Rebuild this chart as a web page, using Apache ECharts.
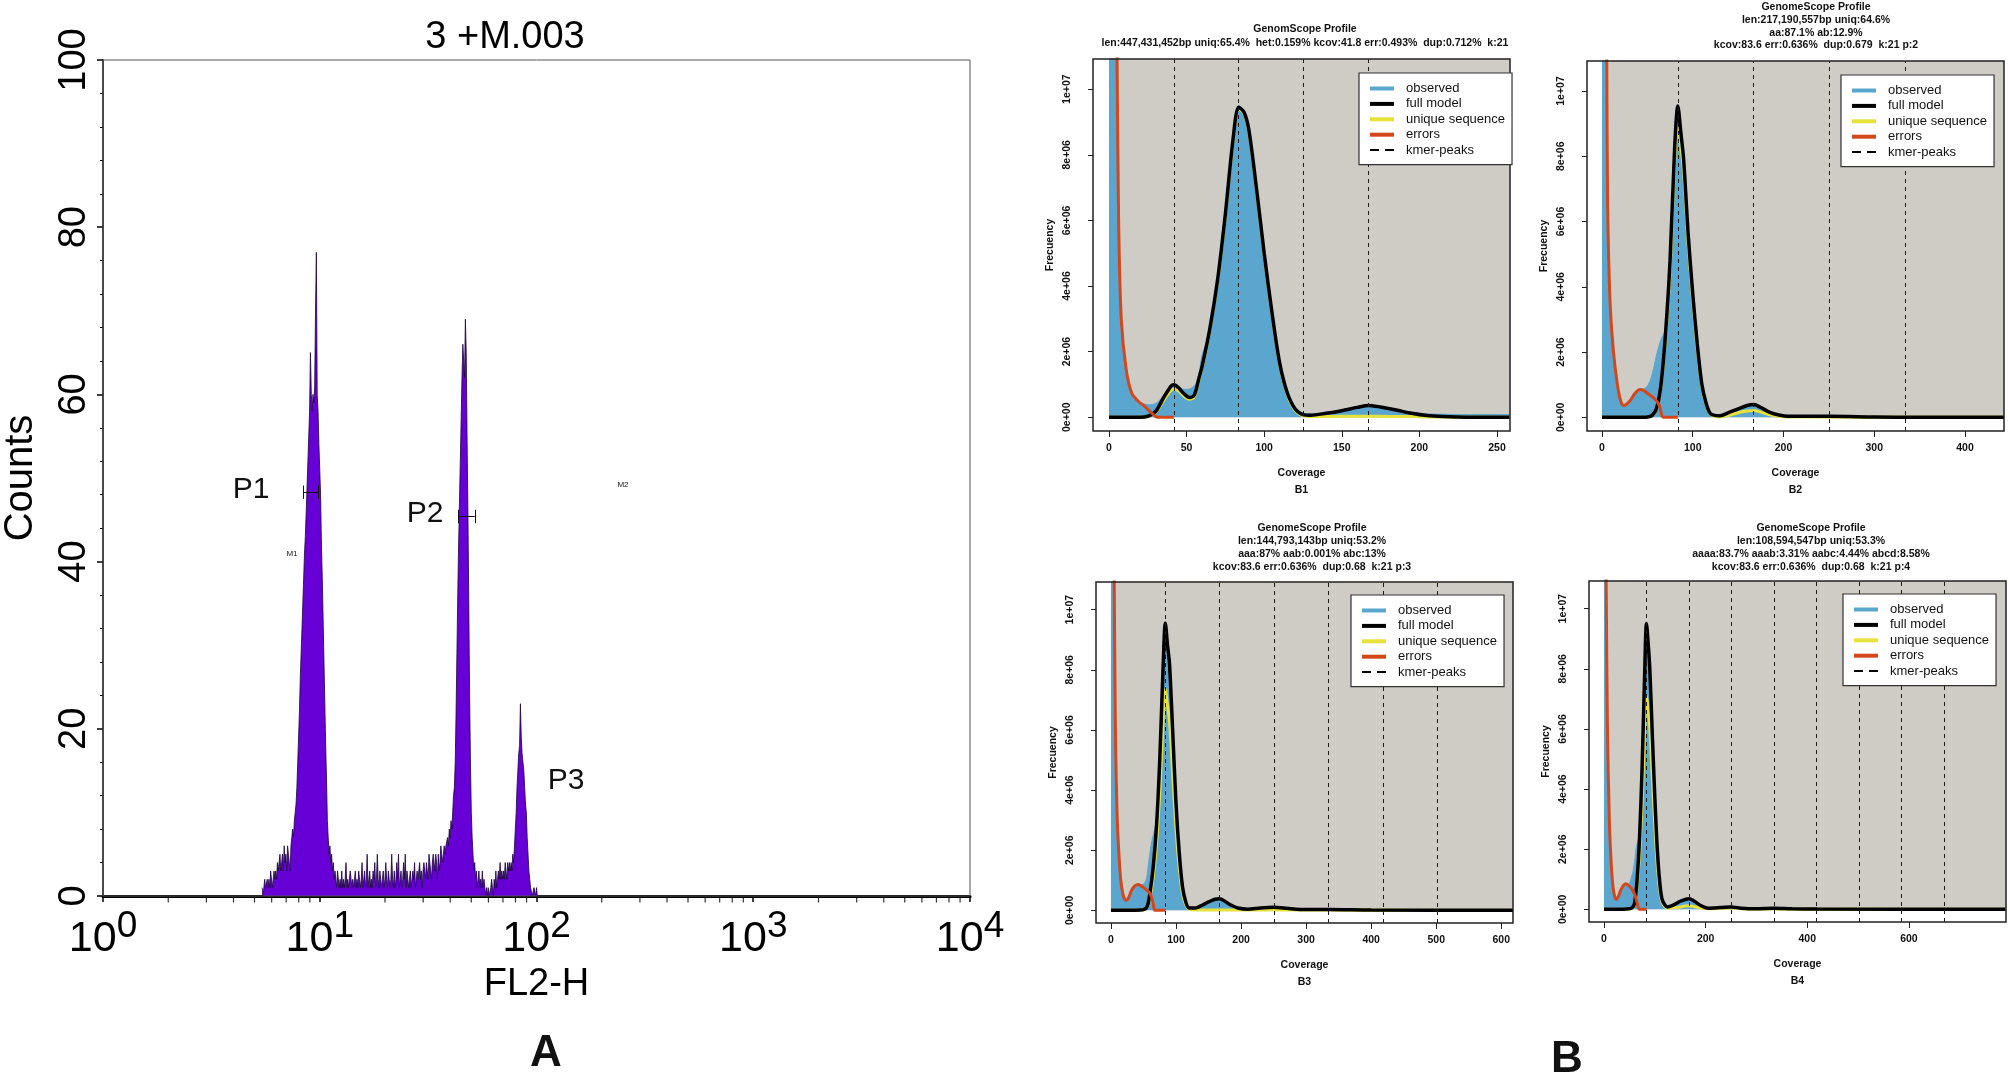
<!DOCTYPE html>
<html>
<head>
<meta charset="utf-8">
<title>FL2-H histogram and GenomeScope profiles</title>
<script src="https://cdn.jsdelivr.net/npm/echarts@6/dist/echarts.min.js"></script>
<style>
  html, body { margin: 0; padding: 0; background: #fff; }
  #main { width: 2010px; height: 1077px; }
</style>
</head>
<body>
<div id="main"></div>
<script>
// ---------- panel A : flow cytometry histogram (1024 channels over 4 decades) ----------
const fl2ChannelsPerDecade = 256;
const fl2FirstChannel = 188;
// counts per channel, starting at channel 188
const fl2Counts = [
  1,0,1,2,1,1,2,1,2,1,3,2,1,2,3,2,3,2,4,3,
  4,5,3,4,5,3,6,4,5,3,6,5,
  4,3,6,7,8,7,9,10,11,13,16,19,22,26,29,32,
  35,38,41,43,46,49,52,55,58,65,60,58,60,59,61,70,77,60,58,54,51,48,42,38,33,28,23,18,14,9,7,5,6,4,5,3,4,2,3,
  2,1,3,2,1,2,1,3,1,2,1,2,4,1,2,1,
  1,3,2,1,2,1,2,3,1,2,1,3,2,1,2,4,1,2,3,1,
  2,5,1,2,3,1,2,1,3,2,4,1,2,5,2,1,3,2,1,2,
  3,1,2,4,2,1,3,2,1,2,5,2,1,3,1,2,4,2,5,1,
  2,3,1,2,4,2,5,1,3,2,1,2,3,1,2,3,2,4,1,2,
  3,2,3,4,2,3,1,3,4,3,2,4,3,2,5,4,3,2,4,5,
  4,3,5,4,2,5,3,4,6,5,4,5,6,5,6,
  6,7,6,8,7,9,8,10,12,13,16,22,29,36,42,47,52,57,62,66,64,62,69,65,55,46,35,24,16,10,7,5,3,4,2,
  3,1,2,3,1,2,1,3,1,2,1,0,1,0,1,0,0,1,2,1,0,2,1,3,1,2,3,2,4,2,3,2,3,2,4,3,2,4,3,4,
  3,4,3,5,4,6,8,10,13,15,17,18,23,19,17,16,15,13,11,10,7,5,3,2,1,1,0,0,1,1,0,1,0
];
// gate markers (FL2-H from, FL2-H to, counts level)
const fl2GateFrom = [8.42, 43.7];
const fl2GateTo = [9.87, 51.9];
const fl2GateLevel = [48.3, 45.4];
const countTicks = [0, 20, 40, 60, 80, 100];
// log minor ticks of the FL2-H axis
const fl2MinorTicks = [2, 3, 4, 5, 6, 7, 8, 9, 20, 30, 40, 50, 60, 70, 80, 90,
  200, 300, 400, 500, 600, 700, 800, 900, 2000, 3000, 4000, 5000, 6000, 7000, 8000, 9000];

// ---------- panel B : GenomeScope profiles (frequency in millions) ----------
const freqTicks = [0, 2, 4, 6, 8, 10];
const freqTickLabels = ['0e+00', '2e+06', '4e+06', '6e+06', '8e+06', '1e+07'];

// B1
const b1Title = ['GenomScope Profile', 'len:447,431,452bp uniq:65.4%  het:0.159% kcov:41.8 err:0.493%  dup:0.712%  k:21'];
const b1Cov = [0, 10, 20, 25, 30, 35, 40, 41.8, 45, 48, 52, 55, 58, 60, 65, 70, 75, 80, 83.6, 87, 90, 95, 100, 105, 110, 115, 120, 125, 130, 140, 150, 160, 167.2, 175, 185, 195, 205, 215, 230, 258];
const b1Model = [0, 0, 0, 0.03, 0.17, 0.58, 0.95, 0.99, 0.89, 0.73, 0.6, 0.68, 1.2, 1.55, 2.7, 4.2, 6.2, 8.5, 9.45, 9.3, 8.8, 7.0, 5.0, 3.2, 1.65, 0.73, 0.25, 0.08, 0.06, 0.12, 0.2, 0.3, 0.36, 0.31, 0.22, 0.12, 0.05, 0.02, 0, 0];
const b1Unique = [0, 0, 0, 0.02, 0.14, 0.5, 0.82, 0.86, 0.79, 0.65, 0.55, 0.62, 1.15, 1.5, 2.65, 4.15, 6.15, 8.45, 9.4, 9.25, 8.75, 6.95, 4.95, 3.15, 1.6, 0.68, 0.2, 0.04, 0.02, 0.02, 0.03, 0.03, 0.03, 0.03, 0.02, 0.02, 0.01, 0.005, 0, 0];
const b1ObsCov = [0, 4, 4.8, 5.2, 6.2, 7.9, 11.1, 14.7, 19, 23, 27, 31, 35, 38, 41.8, 45, 48, 51, 54, 57, 60, 63, 66, 70, 75, 80, 83.6, 87, 90, 95, 100, 105, 110, 115, 120, 125, 130, 140, 150, 160, 167.2, 175, 185, 195, 205, 215, 230, 258.4];
const b1Observed = [12, 12, 11.5, 11, 6.2, 3.1, 1.5, 0.78, 0.5, 0.4, 0.38, 0.45, 0.65, 0.85, 0.95, 0.9, 0.85, 0.85, 0.92, 1.1, 1.9, 2.3, 2.95, 4.2, 6.2, 8.5, 9.5, 9.3, 8.8, 7.0, 5.0, 3.2, 1.7, 0.78, 0.3, 0.12, 0.1, 0.15, 0.23, 0.33, 0.38, 0.33, 0.24, 0.15, 0.1, 0.09, 0.08, 0.08];
const b1ErrCov = [4.8, 5.2, 6.2, 7.9, 11.1, 14.7, 19, 23, 27.7, 31, 35, 41.8];
const b1Errors = [12, 10.9, 6.0, 3.0, 1.45, 0.73, 0.48, 0.33, 0.12, 0, 0, 0];
const b1Peaks = [41.8, 83.6, 125.4, 167.2];

// B2
const b2Title = ['GenomeScope Profile', 'len:217,190,557bp uniq:64.6%', 'aa:87.1% ab:12.9%', 'kcov:83.6 err:0.636%  dup:0.679  k:21 p:2'];
const b2Cov = [0, 40, 50, 55, 60, 65, 70, 75, 80, 83.6, 87, 90, 95, 100, 105, 110, 115, 120, 130, 140, 150, 160, 167.2, 175, 185, 195, 205, 250, 300, 350, 443];
const b2Model = [0, 0, 0.01, 0.05, 0.26, 1.0, 2.55, 4.8, 8.2, 9.54, 8.7, 7.9, 5.6, 3.8, 2.25, 1.02, 0.41, 0.1, 0.05, 0.15, 0.26, 0.36, 0.39, 0.3, 0.15, 0.07, 0.03, 0.03, 0.01, 0, 0];
const b2Unique = [0, 0, 0.01, 0.05, 0.24, 0.95, 2.4, 4.5, 7.8, 9.0, 8.3, 7.5, 5.3, 3.6, 2.1, 0.95, 0.38, 0.08, 0.01, 0.06, 0.14, 0.19, 0.21, 0.16, 0.08, 0.03, 0.01, 0.005, 0, 0, 0];
const b2ObsCov = [0, 4.5, 4.9, 5.3, 6.2, 8.8, 12.5, 16.9, 20.6, 24.2, 30.9, 36, 41.9, 47, 51, 54, 57, 60, 64, 67, 70, 75, 80, 83.6, 87, 90, 95, 100, 105, 110, 115, 120, 130, 140, 150, 160, 167.2, 175, 185, 195, 205, 250, 300, 350, 443];
const b2Observed = [12, 12, 11.5, 11, 6.7, 3.7, 2.1, 1.05, 0.52, 0.38, 0.52, 0.72, 0.85, 0.88, 1.0, 1.2, 1.5, 1.9, 2.3, 2.5, 2.7, 4.8, 8.2, 9.5, 8.7, 7.9, 5.6, 3.8, 2.25, 1.05, 0.45, 0.14, 0.08, 0.16, 0.27, 0.37, 0.4, 0.31, 0.16, 0.09, 0.05, 0.04, 0.02, 0.01, 0.01];
const b2ErrCov = [4.9, 5.3, 6.2, 8.8, 12.5, 16.9, 20.6, 24.2, 30.9, 36, 41.9, 46, 51, 58.4, 61.5, 64, 67.6, 83.6];
const b2Errors = [12, 10.9, 6.6, 3.6, 2.05, 1.02, 0.5, 0.36, 0.51, 0.72, 0.85, 0.82, 0.72, 0.56, 0.45, 0.3, 0, 0];
const b2Peaks = [83.6, 167.2, 250.8, 334.4];

// B3
const b3Title = ['GenomeScope Profile', 'len:144,793,143bp uniq:53.2%', 'aaa:87% aab:0.001% abc:13%', 'kcov:83.6 err:0.636%  dup:0.68  k:21 p:3'];
const b3Cov = [0, 45, 55, 60, 65, 70, 75, 80, 83.6, 87, 90, 95, 100, 105, 110, 115, 120, 130, 140, 150, 160, 167.2, 175, 185, 195, 210, 230, 250, 270, 290, 335, 400, 618];
const b3Model = [0, 0.01, 0.1, 0.6, 1.45, 2.8, 5.0, 8.0, 9.55, 8.8, 8.2, 5.9, 3.55, 1.9, 0.78, 0.28, 0.08, 0.08, 0.17, 0.28, 0.37, 0.39, 0.3, 0.17, 0.08, 0.04, 0.08, 0.1, 0.07, 0.03, 0.03, 0.01, 0];
const b3Unique = [0, 0.01, 0.08, 0.45, 1.1, 2.2, 3.9, 6.2, 7.35, 6.8, 6.3, 4.5, 2.7, 1.4, 0.55, 0.18, 0.04, 0.01, 0.01, 0.01, 0.015, 0.015, 0.01, 0.01, 0.01, 0.01, 0.01, 0.01, 0.01, 0.01, 0.01, 0, 0];
const b3ObsCov = [0, 4, 4.5, 5, 6.7, 9.7, 13.8, 16.4, 19.5, 23.1, 27, 31.8, 37, 42, 47, 52, 55, 58, 62, 66, 70, 75, 80, 83.6, 87, 90, 95, 100, 105, 110, 115, 120, 130, 140, 150, 160, 167.2, 175, 185, 195, 210, 230, 250, 270, 290, 335, 400, 618];
const b3Observed = [12, 12, 11.5, 11, 6.4, 3.1, 1.4, 0.8, 0.48, 0.35, 0.43, 0.68, 0.82, 0.87, 0.85, 0.92, 1.1, 1.6, 2.2, 2.6, 3.0, 5.0, 8.0, 9.5, 8.8, 8.2, 5.9, 3.6, 1.95, 0.82, 0.32, 0.12, 0.1, 0.18, 0.29, 0.38, 0.4, 0.31, 0.18, 0.09, 0.05, 0.08, 0.1, 0.07, 0.04, 0.03, 0.01, 0.01];
const b3ErrCov = [4.5, 5, 6.7, 9.7, 13.8, 16.4, 19.5, 23.1, 27, 31.8, 37, 42, 47, 52.3, 60, 63, 65, 67.7, 84];
const b3Errors = [12, 11, 6.3, 3.0, 1.33, 0.78, 0.45, 0.33, 0.42, 0.67, 0.82, 0.86, 0.8, 0.72, 0.56, 0.4, 0.22, 0, 0];
const b3Peaks = [83.6, 167.2, 250.8, 334.4, 418, 501.6];

// B4
const b4Title = ['GenomeScope Profile', 'len:108,594,547bp uniq:53.3%', 'aaaa:83.7% aaab:3.31% aabc:4.44% abcd:8.58%', 'kcov:83.6 err:0.636%  dup:0.68  k:21 p:4'];
const b4Cov = [0, 45, 55, 60, 65, 70, 75, 80, 83.6, 87, 90, 95, 100, 105, 110, 115, 125, 135, 150, 160, 167.2, 175, 190, 205, 230, 250, 270, 300, 334.4, 370, 420, 790];
const b4Model = [0, 0.01, 0.05, 0.19, 0.96, 2.4, 4.73, 7.83, 9.51, 8.83, 8.05, 5.84, 3.73, 1.96, 0.85, 0.3, 0.08, 0.13, 0.27, 0.33, 0.35, 0.3, 0.13, 0.04, 0.06, 0.08, 0.04, 0.02, 0.04, 0.02, 0.01, 0];
const b4Unique = [0, 0.01, 0.04, 0.15, 0.75, 1.85, 3.6, 6.0, 7.1, 6.6, 6.1, 4.4, 2.8, 1.45, 0.6, 0.2, 0.04, 0.05, 0.08, 0.11, 0.12, 0.1, 0.05, 0.02, 0.03, 0.05, 0.02, 0.01, 0.01, 0.005, 0, 0];
const b4ObsCov = [0, 3.5, 3.9, 4.5, 6.6, 10.5, 15, 19, 23.6, 28, 32.8, 37, 42.6, 47, 51, 54.5, 57.7, 61, 64, 67, 70, 75, 80, 83.6, 87, 90, 95, 100, 105, 110, 115, 125, 135, 150, 160, 167.2, 175, 190, 205, 230, 250, 270, 300, 334.4, 370, 420, 790];
const b4Observed = [12, 12, 11.5, 10.5, 6.3, 3.0, 1.35, 0.6, 0.35, 0.45, 0.65, 0.78, 0.86, 0.85, 0.9, 1.1, 1.3, 1.7, 2.1, 2.3, 2.5, 4.75, 7.85, 9.5, 8.85, 8.05, 5.85, 3.75, 2.0, 0.88, 0.32, 0.1, 0.15, 0.28, 0.34, 0.36, 0.31, 0.14, 0.05, 0.07, 0.09, 0.05, 0.03, 0.05, 0.03, 0.02, 0.01];
const b4ErrCov = [3.9, 4.5, 6.6, 10.5, 15, 19, 23.6, 28, 32.8, 37.5, 42.6, 48, 54.4, 61, 65.6, 69.5, 84];
const b4Errors = [12, 10.5, 6.28, 2.96, 1.3, 0.6, 0.33, 0.42, 0.63, 0.78, 0.85, 0.8, 0.69, 0.47, 0.19, 0, 0];
const b4Peaks = [83.6, 167.2, 250.8, 334.4, 418, 501.6, 585.2, 668.8];

// colours
const COLOR_HIST = '#5BA6CF';
const COLOR_BG = '#CFCBC5';
const COLOR_ERR = '#D4471A';
const COLOR_UNIQUE = '#E6E23A';
const COLOR_PURPLE = '#6600D6';
const FONT = "'Liberation Sans', Arial, Helvetica, sans-serif";
const FONT_NARROW = "'Liberation Sans Narrow', 'Arial Narrow', 'Liberation Sans', Arial, sans-serif";

const pairs = (xs, ys) => xs.map((x, i) => [x, ys[i]]);

// layout of the four GenomeScope panels
const panels = [
  {label: 'B1', title: b1Title, titleX: 1305, titleTop: 22, titleLH: 14,
   grid: {left: 1093, top: 59, width: 417, height: 372}, xMin: -10.3, xMax: 258.4, xTicks: [0, 50, 100, 150, 200, 250],
   legend: {left: 1359, top: 73},
   cov: b1Cov, model: b1Model, unique: b1Unique, obsCov: b1ObsCov, observed: b1Observed, errCov: b1ErrCov, errors: b1Errors, peaks: b1Peaks},
  {label: 'B2', title: b2Title, titleX: 1816, titleTop: 1, titleLH: 12.7,
   grid: {left: 1587, top: 61, width: 417, height: 370}, xMin: -16.5, xMax: 443, xTicks: [0, 100, 200, 300, 400],
   legend: {left: 1841, top: 75},
   cov: b2Cov, model: b2Model, unique: b2Unique, obsCov: b2ObsCov, observed: b2Observed, errCov: b2ErrCov, errors: b2Errors, peaks: b2Peaks},
  {label: 'B3', title: b3Title, titleX: 1312, titleTop: 521.5, titleLH: 13,
   grid: {left: 1096, top: 582, width: 417, height: 341}, xMin: -23, xMax: 618, xTicks: [0, 100, 200, 300, 400, 500, 600],
   legend: {left: 1351, top: 595},
   cov: b3Cov, model: b3Model, unique: b3Unique, obsCov: b3ObsCov, observed: b3Observed, errCov: b3ErrCov, errors: b3Errors, peaks: b3Peaks},
  {label: 'B4', title: b4Title, titleX: 1811, titleTop: 521.5, titleLH: 13,
   grid: {left: 1589, top: 581, width: 417, height: 341}, xMin: -29.5, xMax: 791, xTicks: [0, 200, 400, 600],
   legend: {left: 1843, top: 594},
   cov: b4Cov, model: b4Model, unique: b4Unique, obsCov: b4ObsCov, observed: b4Observed, errCov: b4ErrCov, errors: b4Errors, peaks: b4Peaks}
];
const FREQ_MIN = -0.42, FREQ_MAX = 10.92;

const option = {
  animation: false,
  backgroundColor: '#fff',
  textStyle: {fontFamily: FONT, color: '#000'},
  title: [],
  legend: [],
  grid: [],
  xAxis: [],
  yAxis: [],
  series: [],
  graphic: []
};

// ---- panel A ----
option.title.push({
  text: '3 +M.003', left: 505, top: 19, textAlign: 'center', padding: 0,
  textStyle: {fontSize: 38, fontWeight: 'normal', color: '#000', fontFamily: FONT_NARROW}
});
option.grid.push({left: 101, top: 60, width: 869, height: 836, show: true, z: 10,
  backgroundColor: 'transparent', borderColor: '#555', borderWidth: 1});
option.xAxis.push({
  gridIndex: 0, type: 'log', logBase: 10, min: 1, max: 10000,
  axisLine: {onZero: false, lineStyle: {color: '#000', width: 3}},
  axisTick: {length: 6, lineStyle: {color: '#000', width: 1.5}},
  axisLabel: {
    margin: 12, color: '#000',
    formatter: v => '{m|10}{e|' + Math.round(Math.log10(v)) + '}',
    rich: {
      m: {fontSize: 43, lineHeight: 62, fontFamily: FONT_NARROW, color: '#000'},
      e: {fontSize: 37, lineHeight: 38, verticalAlign: 'top', fontFamily: FONT_NARROW, color: '#000'}
    }
  },
  splitLine: {show: false},
  name: 'FL2-H', nameLocation: 'middle', nameGap: 60,
  nameTextStyle: {fontSize: 38, color: '#000', fontFamily: FONT_NARROW}
});
option.yAxis.push({
  gridIndex: 0, type: 'value', min: countTicks[0], max: countTicks[countTicks.length - 1], interval: 20,
  axisLine: {show: true, onZero: false, lineStyle: {color: '#000', width: 1.5}},
  axisTick: {show: true, length: 6, lineStyle: {color: '#000', width: 1.5}},
  minorTick: {show: true, splitNumber: 5, length: 3, lineStyle: {color: '#000', width: 1}},
  axisLabel: {rotate: 90, fontSize: 38, margin: 9, color: '#000', fontFamily: FONT_NARROW},
  splitLine: {show: false},
  name: 'Counts', nameLocation: 'middle', nameRotate: 90, nameGap: 62,
  nameTextStyle: {fontSize: 40, color: '#000', fontFamily: FONT_NARROW}
});
const gateLines = [];
fl2GateFrom.forEach((from, i) => {
  const to = fl2GateTo[i], lv = fl2GateLevel[i];
  gateLines.push([{coord: [from, lv]}, {coord: [to, lv]}]);
  gateLines.push([{coord: [from, lv - 0.8]}, {coord: [from, lv + 0.8]}]);
  gateLines.push([{coord: [to, lv - 0.8]}, {coord: [to, lv + 0.8]}]);
});
option.series.push({
  name: 'FL2-H', type: 'line', xAxisIndex: 0, yAxisIndex: 0,
  data: fl2Counts.map((n, i) => [Math.pow(10, (fl2FirstChannel + i) / fl2ChannelsPerDecade), n]),
  symbol: 'none', lineStyle: {color: '#1c0040', width: 0.8},
  areaStyle: {color: COLOR_PURPLE, opacity: 1},
  markLine: {silent: true, symbol: 'none', label: {show: false},
    lineStyle: {color: '#111', width: 1, type: 'solid'}, data: gateLines}
});
// minor ticks of the log axis, hanging below the baseline
option.series.push({
  name: 'fl2-minor-ticks', type: 'scatter', xAxisIndex: 0, yAxisIndex: 0, silent: true, clip: false, z: 11,
  data: fl2MinorTicks.map(v => [v, 0]),
  symbol: 'rect', symbolSize: [1.2, 5], symbolOffset: [0, 4], itemStyle: {color: '#000'}
});
[['P1', 251, 490, 30], ['P2', 425, 514, 30], ['P3', 566, 781, 30], ['M1', 292, 554, 8], ['M2', 623, 485, 8]].forEach(t => {
  option.graphic.push({type: 'text', x: t[1], y: t[2], z: 20,
    style: {text: t[0], fontSize: t[3], fontFamily: FONT_NARROW, fill: '#111', align: 'center', verticalAlign: 'middle'}});
});
option.graphic.push({type: 'text', x: 546, y: 1054, z: 20,
  style: {text: 'A', fontSize: 44, fontWeight: 'bold', fontFamily: FONT, fill: '#111', align: 'center', verticalAlign: 'middle'}});
option.graphic.push({type: 'text', x: 1567, y: 1060, z: 20,
  style: {text: 'B', fontSize: 44, fontWeight: 'bold', fontFamily: FONT, fill: '#111', align: 'center', verticalAlign: 'middle'}});

// ---- panels B1..B4 ----
const boldSmall = {fontSize: 10.5, fontWeight: 'bold', color: '#111', fontFamily: FONT};
panels.forEach((p, i) => {
  const k = i + 1;
  option.title.push({
    text: p.title.join('\n'), left: p.titleX, top: p.titleTop, textAlign: 'center', padding: 0,
    textStyle: Object.assign({}, boldSmall, {lineHeight: p.titleLH})
  });
  option.grid.push(Object.assign({show: true, z: 10, backgroundColor: 'transparent', borderColor: '#222', borderWidth: 1.5}, p.grid));
  option.xAxis.push({
    gridIndex: k, type: 'value', min: p.xMin, max: p.xMax,
    axisLine: {show: false, onZero: false},
    axisTick: {show: true, customValues: p.xTicks, length: 6, lineStyle: {color: '#222', width: 1}},
    axisLabel: Object.assign({customValues: p.xTicks, margin: 12}, boldSmall),
    splitLine: {show: false},
    name: 'Coverage\n' + p.label, nameLocation: 'middle', nameGap: 34,
    nameTextStyle: Object.assign({lineHeight: 17}, boldSmall)
  });
  option.yAxis.push({
    gridIndex: k, type: 'value', min: FREQ_MIN, max: FREQ_MAX,
    axisLine: {show: false, onZero: false},
    axisTick: {show: true, customValues: freqTicks, length: 5, lineStyle: {color: '#222', width: 1}},
    axisLabel: Object.assign({customValues: freqTicks, rotate: 90, margin: 20,
      formatter: v => freqTickLabels[freqTicks.indexOf(v)]}, boldSmall),
    splitLine: {show: false},
    name: 'Frecuency', nameLocation: 'middle', nameRotate: 90, nameGap: 37,
    nameTextStyle: boldSmall
  });
  const base = {xAxisIndex: k, yAxisIndex: k, symbol: 'none', smooth: 0.3};
  // grey plotting background from coverage 0 / frequency 0 up to the top-right corner
  option.series.push(Object.assign({}, base, {
    name: 'bg' + k, type: 'line', data: [[0, 0]], lineStyle: {width: 0}, z: 1,
    markArea: {silent: true, itemStyle: {color: COLOR_BG}, data: [[{coord: [0, 0]}, {coord: [p.xMax, FREQ_MAX]}]]}
  }));
  option.series.push(Object.assign({}, base, {
    name: 'observed', type: 'line', data: pairs(p.obsCov, p.observed), z: 2,
    itemStyle: {color: COLOR_HIST}, lineStyle: {color: COLOR_HIST, width: 1},
    areaStyle: {color: COLOR_HIST, opacity: 1}
  }));
  option.series.push(Object.assign({}, base, {
    name: 'unique sequence', type: 'line', data: pairs(p.cov, p.unique), z: 3,
    itemStyle: {color: COLOR_UNIQUE}, lineStyle: {color: COLOR_UNIQUE, width: 3}
  }));
  option.series.push(Object.assign({}, base, {
    name: 'full model', type: 'line', data: pairs(p.cov, p.model), z: 4,
    itemStyle: {color: '#000'}, lineStyle: {color: '#000', width: 3.5}
  }));
  option.series.push(Object.assign({}, base, {
    name: 'errors', type: 'line', data: pairs(p.errCov, p.errors), z: 4,
    itemStyle: {color: COLOR_ERR}, lineStyle: {color: COLOR_ERR, width: 3}
  }));
  option.series.push(Object.assign({}, base, {
    name: 'kmer-peaks', type: 'line', data: [], z: 5, itemStyle: {color: '#000'},
    markLine: {silent: true, symbol: 'none', label: {show: false},
      lineStyle: {color: '#1a1a1a', width: 1, type: [4, 4]},
      data: p.peaks.map(v => ({xAxis: v}))}
  }));
  option.legend.push({
    orient: 'vertical', left: p.legend.left, top: p.legend.top, z: 20,
    backgroundColor: '#fff', borderColor: '#333', borderWidth: 1.2,
    padding: [9, 7, 8, 11], itemWidth: 24, itemHeight: 4, itemGap: 2.4, selectedMode: false,
    textStyle: {fontSize: 13, color: '#111', fontFamily: FONT, padding: [0, 0, 0, 7]},
    data: [
      {name: 'observed', icon: 'rect', itemStyle: {color: COLOR_HIST}},
      {name: 'full model', icon: 'rect', itemStyle: {color: '#000'}},
      {name: 'unique sequence', icon: 'rect', itemStyle: {color: COLOR_UNIQUE}},
      {name: 'errors', icon: 'rect', itemStyle: {color: COLOR_ERR}},
      {name: 'kmer-peaks', icon: 'path://M0,1H9V3H0Z M15,1H24V3H15Z', itemStyle: {color: '#000'}}
    ]
  });
});

const chart = echarts.init(document.getElementById('main'));
chart.setOption(option);
</script>
</body>
</html>
